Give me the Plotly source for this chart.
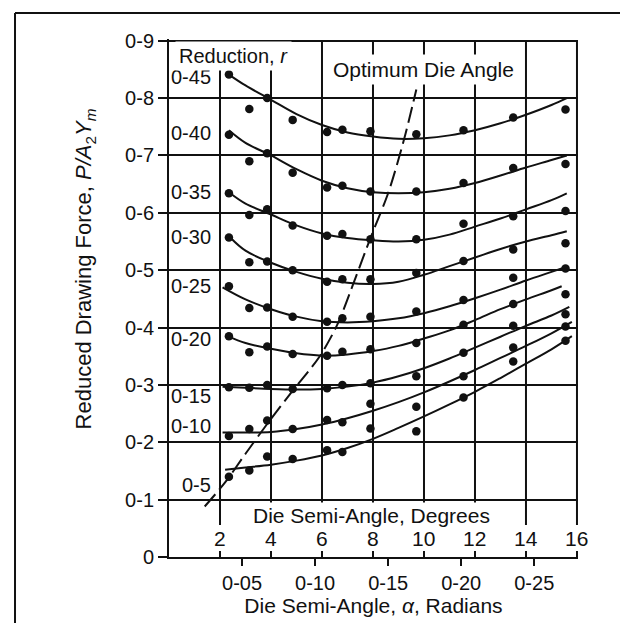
import numpy as np
import plotly.graph_objects as go

# ---------------- data ----------------
REDUCTIONS = ["0-45", "0-40", "0-35", "0-30", "0-25", "0-20", "0-15", "0-10", "0-5"]

# die semi-angle (degrees) of the measured points
DOT_DEG = [2.35, 3.15, 3.85, 4.85, 6.2, 6.8, 7.9, 9.7, 11.55, 13.5, 15.55]

DOTS_045 = [0.841, 0.781, 0.800, 0.762, 0.741, 0.745, 0.742, 0.737, 0.744, 0.766, 0.780]
DOTS_040 = [0.736, 0.690, 0.704, 0.670, 0.644, 0.647, 0.637, 0.637, 0.652, 0.678, 0.685]
DOTS_035 = [0.634, 0.596, 0.606, 0.578, 0.560, 0.563, 0.554, 0.554, 0.581, 0.594, 0.603]
DOTS_030 = [0.557, 0.514, 0.515, 0.500, 0.480, 0.484, 0.484, 0.495, 0.516, 0.536, 0.547]
DOTS_025 = [0.472, 0.434, 0.435, 0.419, 0.410, 0.416, 0.419, 0.428, 0.448, 0.487, 0.503]
DOTS_020 = [0.385, 0.357, 0.367, 0.354, 0.351, 0.358, 0.362, 0.373, 0.405, 0.441, 0.458]
DOTS_015 = [0.296, 0.295, 0.300, 0.293, 0.294, 0.300, 0.303, 0.315, 0.356, 0.403, 0.423]
DOTS_010 = [0.211, 0.223, 0.238, 0.223, 0.239, 0.235, 0.267, 0.262, 0.315, 0.365, 0.402]
DOTS_005 = [0.140, 0.151, 0.175, 0.171, 0.186, 0.183, 0.224, 0.219, 0.278, 0.341, 0.377]

# fitted curves (degrees, reduced force)
CURVE_045_X = [2.35, 3, 4, 5, 6, 7, 8, 9, 10, 11, 12, 13, 14, 15, 15.6]
CURVE_045_Y = [0.841, 0.822, 0.797, 0.772, 0.753, 0.740, 0.733, 0.729, 0.730, 0.735, 0.744, 0.756, 0.771, 0.788, 0.800]
CURVE_040_X = [2.35, 3, 4, 5, 6, 7, 8, 9, 10, 11, 12, 13, 14, 15, 15.6]
CURVE_040_Y = [0.744, 0.722, 0.700, 0.676, 0.656, 0.643, 0.636, 0.634, 0.636, 0.642, 0.652, 0.665, 0.679, 0.692, 0.700]
CURVE_035_X = [2.4, 3, 4, 5, 6, 7, 8, 9, 10, 11, 12, 13, 14, 15, 15.6]
CURVE_035_Y = [0.634, 0.616, 0.597, 0.578, 0.564, 0.556, 0.552, 0.550, 0.553, 0.562, 0.576, 0.590, 0.606, 0.622, 0.634]
CURVE_030_X = [2.4, 3, 4, 5, 6, 7, 8, 9, 10, 11, 12, 13, 14, 15, 15.6]
CURVE_030_Y = [0.557, 0.534, 0.513, 0.497, 0.485, 0.478, 0.476, 0.480, 0.492, 0.507, 0.522, 0.537, 0.550, 0.561, 0.568]
CURVE_025_X = [2.1, 3, 4, 5, 6, 7, 8, 9, 10, 11, 12, 13, 14, 15, 15.6]
CURVE_025_Y = [0.470, 0.449, 0.432, 0.419, 0.411, 0.409, 0.411, 0.416, 0.425, 0.437, 0.451, 0.466, 0.482, 0.497, 0.506]
CURVE_020_X = [2.3, 3, 4, 5, 6, 7, 8, 9, 10, 11, 12, 13, 14, 15, 15.4]
CURVE_020_Y = [0.385, 0.373, 0.363, 0.355, 0.351, 0.353, 0.359, 0.368, 0.381, 0.395, 0.413, 0.432, 0.449, 0.465, 0.472]
CURVE_015_X = [2.1, 3, 4, 5, 6, 7, 8, 9, 10, 11, 12, 13, 14, 15, 15.7]
CURVE_015_Y = [0.297, 0.295, 0.293, 0.292, 0.293, 0.297, 0.304, 0.315, 0.329, 0.346, 0.365, 0.384, 0.403, 0.421, 0.436]
CURVE_010_X = [2.1, 3, 4, 5, 6, 7, 8, 9, 10, 11, 12, 13, 14, 15, 15.8]
CURVE_010_Y = [0.217, 0.217, 0.218, 0.223, 0.231, 0.242, 0.255, 0.270, 0.287, 0.306, 0.326, 0.347, 0.368, 0.390, 0.410]
CURVE_005_X = [2.2, 3, 4, 5, 6, 7, 8, 9, 10, 11, 12, 13, 14, 15, 15.8]
CURVE_005_Y = [0.152, 0.156, 0.161, 0.168, 0.177, 0.190, 0.206, 0.225, 0.245, 0.266, 0.288, 0.312, 0.337, 0.362, 0.385]

# optimum die angle locus
OPT_X = [1.4, 2.2, 3.0, 3.9, 4.8, 5.9, 6.6, 7.3, 7.9, 8.6, 9.2, 9.7]
OPT_Y = [0.088, 0.130, 0.180, 0.235, 0.287, 0.349, 0.405, 0.485, 0.556, 0.635, 0.725, 0.815]

# ticks
Y_TICKS = [0, 0.1, 0.2, 0.3, 0.4, 0.5, 0.6, 0.7, 0.8, 0.9]
Y_TICK_LABELS = ["0", "0-1", "0-2", "0-3", "0-4", "0-5", "0-6", "0-7", "0-8", "0-9"]
DEG_TICKS = [2, 4, 6, 8, 10, 12, 14, 16]
DEG_TICK_LABELS = ["2", "4", "6", "8", "10", "12", "14", "16"]
RAD_TICKS = [0.05, 0.10, 0.15, 0.20, 0.25]
RAD_TICK_LABELS = ["0-05", "0-10", "0-15", "0-20", "0-25"]

# ---------------- layout constants ----------------
FONT = "Liberation Sans, Arial, sans-serif"
INK = "#111111"
FS_TICK = 20
FS_TITLE = 21
LABEL_X = 1.73                      # degrees, right edge of the reduction labels
LABEL_Y = [0.836, 0.740, 0.637, 0.557, 0.473, 0.380, 0.281, 0.228, 0.126]
DEG_LABEL_Y = 0.033
GRID_BOTTOM = 0.056

dots = [DOTS_045, DOTS_040, DOTS_035, DOTS_030, DOTS_025, DOTS_020, DOTS_015, DOTS_010, DOTS_005]
curves = [(CURVE_045_X, CURVE_045_Y), (CURVE_040_X, CURVE_040_Y), (CURVE_035_X, CURVE_035_Y),
          (CURVE_030_X, CURVE_030_Y), (CURVE_025_X, CURVE_025_Y), (CURVE_020_X, CURVE_020_Y),
          (CURVE_015_X, CURVE_015_Y), (CURVE_010_X, CURVE_010_Y), (CURVE_005_X, CURVE_005_Y)]

fig = go.Figure()

for name, (cx, cy), dy in zip(REDUCTIONS, curves, dots):
    fig.add_trace(go.Scatter(x=cx, y=cy, mode="lines", name=name,
                             line=dict(color=INK, width=2, shape="spline", smoothing=1.0),
                             hoverinfo="skip"))
    fig.add_trace(go.Scatter(x=DOT_DEG, y=dy, mode="markers", name=name,
                             marker=dict(color=INK, size=8.5), hoverinfo="skip"))

fig.add_trace(go.Scatter(x=OPT_X, y=OPT_Y, mode="lines", xaxis="x2",
                         line=dict(color=INK, width=2, dash="16px,6px", shape="spline", smoothing=0.8),
                         hoverinfo="skip"))

shapes = []
for d in DEG_TICKS:
    shapes.append(dict(type="line", xref="x", yref="y", x0=d, x1=d, y0=GRID_BOTTOM, y1=0.9,
                       line=dict(color=INK, width=2), layer="below"))
# page frame
shapes += [
    dict(type="line", xref="paper", yref="paper", x0=-0.3765, x1=1.142, y0=1.0502, y1=1.0502,
         line=dict(color=INK, width=2)),
    dict(type="line", xref="paper", yref="paper", x0=-0.3765, x1=-0.3765, y0=1.0502, y1=-0.143,
         line=dict(color=INK, width=2)),
    dict(type="line", xref="paper", yref="paper", x0=0.17, x1=1.142, y0=-0.139, y1=-0.139,
         line=dict(color="#bbbbbb", width=1)),
]

annotations = []
for d, lab in zip(DEG_TICKS, DEG_TICK_LABELS):
    annotations.append(dict(x=d, y=DEG_LABEL_Y, xref="x", yref="y", text=lab, showarrow=False,
                            font=dict(size=FS_TITLE, color=INK, family=FONT),
                            xanchor="center", yanchor="middle"))
for lab, ly in zip(REDUCTIONS, LABEL_Y):
    annotations.append(dict(x=LABEL_X, y=ly, xref="x", yref="y", text=lab, showarrow=False,
                            font=dict(size=FS_TICK, color=INK, family=FONT),
                            xanchor="right", yanchor="middle"))
annotations += [
    dict(x=7.95, y=0.0715, xref="x", yref="y", text="Die Semi-Angle, Degrees", showarrow=False,
         font=dict(size=FS_TITLE, color=INK, family=FONT), xanchor="center", yanchor="middle",
         bgcolor="white", borderpad=1),
    dict(x=0.24, y=0.874, xref="x", yref="y", text="Reduction, <i>r</i>", showarrow=False,
         font=dict(size=20, color=INK, family=FONT), xanchor="left", yanchor="middle",
         bgcolor="white", borderpad=3),
    dict(x=6.27, y=0.849, xref="x", yref="y", text="Optimum Die Angle", showarrow=False,
         font=dict(size=21, color=INK, family=FONT), xanchor="left", yanchor="middle",
         bgcolor="white", borderpad=3),
    dict(x=-0.203, y=0.557, xref="paper", yref="paper", textangle=-90,
         text="Reduced Drawing Force, <i>P/A</i><sub>2</sub><i>Y</i><sub><i>m</i></sub>",
         showarrow=False, font=dict(size=22, color=INK, family=FONT), xanchor="center", yanchor="middle"),
]

fig.update_layout(
    width=628, height=623,
    margin=dict(l=161, r=58, t=31, b=74),
    paper_bgcolor="white", plot_bgcolor="white",
    showlegend=False,
    font=dict(family=FONT, size=FS_TICK, color=INK),
    shapes=shapes, annotations=annotations,
    xaxis=dict(range=[0, 16.04], tickvals=list(np.degrees(RAD_TICKS)), ticktext=RAD_TICK_LABELS,
               ticks="outside", ticklen=7, tickwidth=2, tickcolor=INK,
               showline=True, linewidth=2, linecolor=INK, showgrid=False, zeroline=False,
               tickfont=dict(size=FS_TICK, color=INK, family=FONT),
               title=dict(text="Die Semi-Angle, <i>α</i>, Radians",
                          font=dict(size=FS_TITLE, color=INK, family=FONT), standoff=5)),
    xaxis2=dict(range=[0, 16.04], overlaying="x", anchor="y", side="bottom",
                tickvals=DEG_TICKS, ticks="inside", ticklen=6, tickwidth=2, tickcolor=INK,
                showticklabels=False, showline=False, showgrid=False, zeroline=False),
    yaxis=dict(range=[0, 0.903], tickvals=Y_TICKS, ticktext=Y_TICK_LABELS,
               ticks="outside", ticklen=9, tickwidth=2, tickcolor=INK,
               showline=True, linewidth=2, linecolor=INK,
               showgrid=True, gridcolor=INK, gridwidth=2, zeroline=False,
               tickfont=dict(size=FS_TICK, color=INK, family=FONT)),
)

fig.write_html("out.html")
